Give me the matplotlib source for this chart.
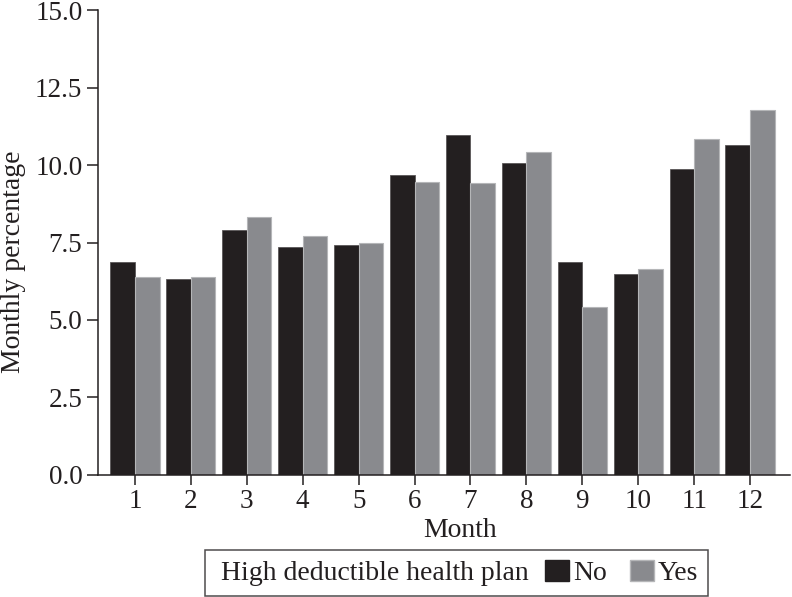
import numpy as np
import matplotlib.pyplot as plt
import matplotlib.patches as mpatches
from matplotlib.offsetbox import HPacker, DrawingArea

### Data
months = [1, 2, 3, 4, 5, 6, 7, 8, 9, 10, 11, 12]
hdhp_no = [6.86, 6.31, 7.90, 7.35, 7.43, 9.67, 10.98, 10.05, 6.86, 6.48, 9.88, 10.64]
hdhp_yes = [6.39, 6.39, 8.32, 7.70, 7.49, 9.46, 9.41, 10.42, 5.41, 6.65, 10.84, 11.76]
yticks = [0.0, 2.5, 5.0, 7.5, 10.0, 12.5, 15.0]

### Style
plt.rcParams['font.family'] = ['Liberation Serif', 'DejaVu Serif']
ink = '#231f20'
col_no = '#231f20'
col_yes = '#898a8e'
fs = 19.5
lfs = 20

fig = plt.figure(figsize=(7.92, 5.97), dpi=100)
ax = fig.add_axes([0.1234, 0.2044, 0.8741, 0.7788])

x = np.array(months, dtype=float)
w = 0.44
ax.bar(x - w / 2, hdhp_no, width=w, color=col_no, edgecolor='#5a5758', linewidth=0.6)
ax.bar(x + w / 2, hdhp_yes, width=w, color=col_yes, edgecolor='#b5b6b8', linewidth=0.8)

### Axes
ax.set_xlim(0.334, 12.715)
ax.set_ylim(0, 15)
ax.set_xticks(months)
ax.set_yticks(yticks)
ax.set_yticklabels([f'{v:.1f}' for v in yticks])
for s in ['top', 'right']:
    ax.spines[s].set_visible(False)
for s in ['left', 'bottom']:
    ax.spines[s].set_linewidth(1.1)
    ax.spines[s].set_color(ink)
ax.tick_params(axis='both', direction='out', length=7, width=1.1, color=ink,
               labelsize=fs, labelcolor=ink, pad=3)
ax.tick_params(axis='y', length=8)

ax.set_xlabel('Month', fontsize=20, color=ink)
ax.xaxis.set_label_coords(0.523, -0.092)
ax.set_ylabel('Monthly percentage', fontsize=20, color=ink)
ax.yaxis.set_label_coords(-0.103, 0.458)

### Legend with title on the same row
h_no = mpatches.Patch(facecolor=col_no, edgecolor=col_no)
h_yes = mpatches.Patch(facecolor=col_yes, edgecolor='#b5b6b8')
leg = fig.legend([h_no, h_yes], ['No', 'Yes'], title='High deductible health plan',
                 ncol=2, loc='lower center', bbox_to_anchor=(0.576, -0.021),
                 fontsize=lfs, title_fontsize=lfs, frameon=True, fancybox=False,
                 edgecolor=ink, handlelength=0.85, handleheight=0.8,
                 handletextpad=0.15, columnspacing=0.85, borderpad=0.45)
leg.get_frame().set_linewidth(1.1)
leg.get_title().set_color(ink)
for t in leg.get_texts():
    t.set_color(ink)
row = HPacker(pad=0, sep=0.6 * lfs, align='center',
              children=[leg._legend_title_box, leg._legend_handle_box])
leg._legend_box = HPacker(pad=0.34 * lfs, sep=0, align='center',
                          children=[DrawingArea(4.8, 0), row])
leg._legend_box.set_figure(fig)
leg._legend_box.axes = leg.axes
leg._legend_box.set_offset(leg._findoffset)

plt.savefig('out.png', dpi=100)
plt.close(fig)
